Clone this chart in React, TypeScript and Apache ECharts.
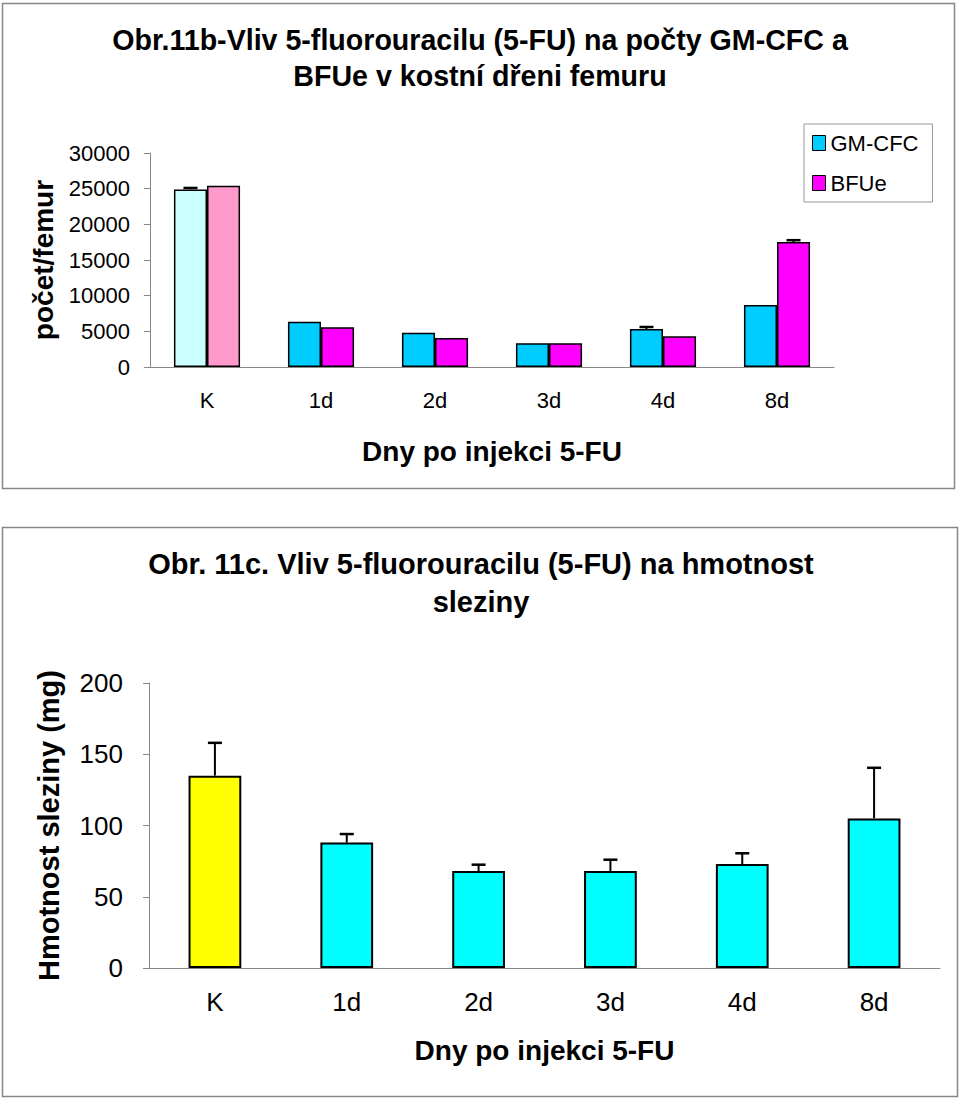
import React, { useEffect, useRef } from "react";
import * as echarts from "echarts";

const categories = ["K", "1d", "2d", "3d", "4d", "8d"];
const gmCfc = [24900, 6350, 4810, 3320, 5330, 8690];
const gmCfcErr = [200, 0, 0, 0, 280, 0];
const bfue = [25400, 5560, 4060, 3320, 4300, 17520];
const bfueErr = [0, 0, 0, 0, 0, 260];
const spleen = [135, 88, 68, 68, 73, 105];
const spleenErr = [23, 6, 4.5, 8, 7.5, 35.5];

const topTitle = "Obr.11b-Vliv 5-fluorouracilu (5-FU) na počty GM-CFC a\nBFUe v kostní dřeni femuru";
const bottomTitle = "Obr. 11c. Vliv 5-fluorouracilu (5-FU) na hmotnost\nsleziny";

const FONT = "Liberation Sans";
const AXIS_GRAY = "#888888";

function errorSeries(
  values: number[],
  errs: number[],
  offsetFrac: number,
  axisIndex: number,
  cap: number
) {
  return {
    type: "custom",
    xAxisIndex: axisIndex,
    yAxisIndex: axisIndex,
    z: 5,
    silent: true,
    encode: { x: 0, y: 1 },
    data: values.map((v, i) => [i, v, errs[i]]),
    renderItem: (params: any, api: any) => {
      const idx = api.value(0);
      const v = api.value(1);
      const e = api.value(2);
      if (!e) return null;
      const base = api.coord([idx, v]);
      const top = api.coord([idx, v + e]);
      const band = api.size([1, 0])[0];
      const cx = base[0] + offsetFrac * band;
      return {
        type: "group",
        children: [
          {
            type: "line",
            shape: { x1: cx, y1: base[1], x2: cx, y2: top[1] },
            style: { stroke: "#000", lineWidth: 2 },
          },
          {
            type: "line",
            shape: { x1: cx - cap / 2, y1: top[1], x2: cx + cap / 2, y2: top[1] },
            style: { stroke: "#000", lineWidth: 2.5 },
          },
        ],
      };
    },
  };
}

export default function App() {
  const ref = useRef<HTMLDivElement>(null);
  useEffect(() => {
    document.body.style.margin = "0";
    const chart = echarts.init(ref.current!, null, { renderer: "svg" });
    const topBarW = 0.29;
    const option: any = {
      animation: false,
      backgroundColor: "#ffffff",
      textStyle: { fontFamily: FONT },
      graphic: [
        {
          type: "rect",
          shape: { x: 2.5, y: 3.5, width: 952, height: 485 },
          style: { fill: "none", stroke: "#888", lineWidth: 1.5 },
          z: -10,
        },
        {
          type: "rect",
          shape: { x: 2.5, y: 527.5, width: 955, height: 569 },
          style: { fill: "none", stroke: "#888", lineWidth: 1.5 },
          z: -10,
        },
        {
          type: "text",
          x: 480,
          y: 22,
          style: {
            text: topTitle,
            align: "center",
            verticalAlign: "top",
            fontFamily: FONT,
            fontSize: 28.6,
            fontWeight: "bold",
            fill: "#000",
            lineHeight: 36,
          },
        },
        {
          type: "text",
          x: 481,
          y: 545,
          style: {
            text: bottomTitle,
            align: "center",
            verticalAlign: "top",
            fontFamily: FONT,
            fontSize: 29,
            fontWeight: "bold",
            fill: "#000",
            lineHeight: 38,
          },
        },
      ],
      legend: {
        data: ["GM-CFC", "BFUe"],
        orient: "vertical",
        left: 804,
        top: 124,
        icon: "rect",
        itemWidth: 13,
        itemHeight: 15,
        itemGap: 18,
        itemTextGap: 5,
        padding: [8, 14, 8, 8],
        borderColor: "#999",
        borderWidth: 1,
        itemStyle: { borderColor: "#000", borderWidth: 1 },
        textStyle: { fontFamily: FONT, fontSize: 22, color: "#000" },
      },
      grid: [
        { left: 150, top: 153, width: 684, height: 214 },
        { left: 149, top: 683, width: 791, height: 285 },
      ],
      xAxis: [
        {
          type: "category",
          gridIndex: 0,
          data: categories,
          name: "Dny po injekci 5-FU",
          nameLocation: "middle",
          nameGap: 70,
          nameTextStyle: { fontFamily: FONT, fontSize: 28, fontWeight: "bold", color: "#000" },
          axisLine: { lineStyle: { color: AXIS_GRAY, width: 1 } },
          axisTick: { length: 7, lineStyle: { color: AXIS_GRAY } },
          axisLabel: { fontFamily: FONT, fontSize: 22, color: "#000", margin: 22 },
        },
        {
          type: "category",
          gridIndex: 1,
          data: categories,
          name: "Dny po injekci 5-FU",
          nameLocation: "middle",
          nameGap: 68,
          nameTextStyle: { fontFamily: FONT, fontSize: 28, fontWeight: "bold", color: "#000" },
          axisLine: { lineStyle: { color: AXIS_GRAY, width: 1 } },
          axisTick: { length: 7, lineStyle: { color: AXIS_GRAY } },
          axisLabel: { fontFamily: FONT, fontSize: 26, color: "#000", margin: 21 },
        },
      ],
      yAxis: [
        {
          type: "value",
          gridIndex: 0,
          min: 0,
          max: 30000,
          interval: 5000,
          name: "počet/femur",
          nameLocation: "middle",
          nameRotate: 90,
          nameGap: 90,
          nameTextStyle: { fontFamily: FONT, fontSize: 28, fontWeight: "bold", color: "#000" },
          axisLine: { show: true, lineStyle: { color: AXIS_GRAY, width: 1 } },
          axisTick: { show: true, length: 6, lineStyle: { color: AXIS_GRAY } },
          splitLine: { show: false },
          axisLabel: {
            fontFamily: FONT,
            fontSize: 22,
            color: "#000",
            margin: 20,
            formatter: (v: number) => String(v),
          },
        },
        {
          type: "value",
          gridIndex: 1,
          min: 0,
          max: 200,
          interval: 50,
          name: "Hmotnost sleziny (mg)",
          nameLocation: "middle",
          nameRotate: 90,
          nameGap: 86,
          nameTextStyle: { fontFamily: FONT, fontSize: 29, fontWeight: "bold", color: "#000" },
          axisLine: { show: true, lineStyle: { color: AXIS_GRAY, width: 1 } },
          axisTick: { show: true, length: 6, lineStyle: { color: AXIS_GRAY } },
          splitLine: { show: false },
          axisLabel: {
            fontFamily: FONT,
            fontSize: 26,
            color: "#000",
            margin: 26,
            formatter: (v: number) => String(v),
          },
        },
      ],
      series: [
        {
          name: "GM-CFC",
          type: "bar",
          xAxisIndex: 0,
          yAxisIndex: 0,
          barWidth: topBarW * 100 + "%",
          barGap: "0%",
          itemStyle: { color: "#00CCFF", borderColor: "#000", borderWidth: 1.5 },
          data: gmCfc.map((v, i) =>
            i === 0 ? { value: v, itemStyle: { color: "#CCFFFF" } } : v
          ),
        },
        {
          name: "BFUe",
          type: "bar",
          xAxisIndex: 0,
          yAxisIndex: 0,
          barWidth: topBarW * 100 + "%",
          barGap: "0%",
          itemStyle: { color: "#FF00FF", borderColor: "#000", borderWidth: 1.5 },
          data: bfue.map((v, i) =>
            i === 0 ? { value: v, itemStyle: { color: "#FF99CC" } } : v
          ),
        },
        errorSeries(gmCfc, gmCfcErr, -topBarW / 2, 0, 14),
        errorSeries(bfue, bfueErr, topBarW / 2, 0, 14),
        {
          name: "Hmotnost sleziny",
          type: "bar",
          xAxisIndex: 1,
          yAxisIndex: 1,
          barWidth: "40%",
          itemStyle: { color: "#00FFFF", borderColor: "#000", borderWidth: 2 },
          data: spleen.map((v, i) =>
            i === 0 ? { value: v, itemStyle: { color: "#FFFF00" } } : v
          ),
        },
        errorSeries(spleen, spleenErr, 0, 1, 14),
      ],
    };
    chart.setOption(option);
    return () => chart.dispose();
  }, []);
  return <div ref={ref} style={{ width: 960, height: 1099 }} />;
}
